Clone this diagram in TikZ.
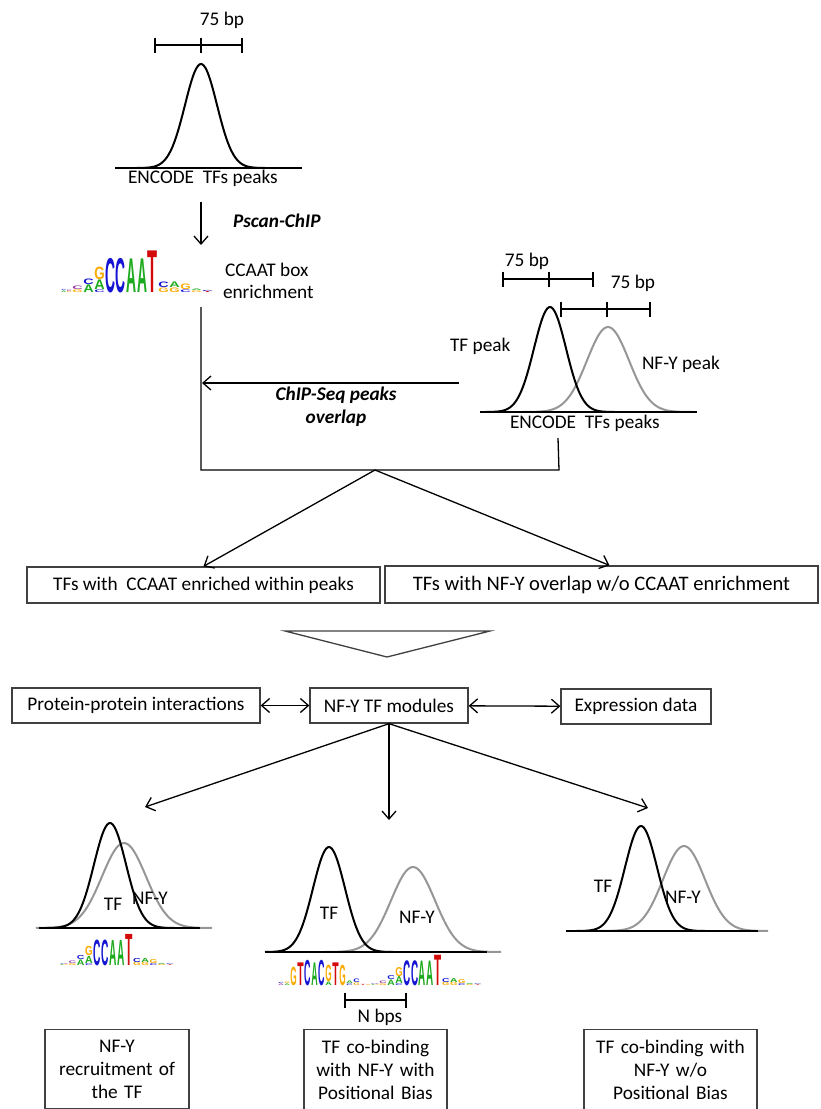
\documentclass[tikz,border=0pt]{standalone}
\usepackage{fontspec}
\setmainfont{Carlito}
\newfontfamily\logofont{Liberation Sans}
\usetikzlibrary{arrows.meta,positioning}

\definecolor{lgA}{RGB}{30,170,30}
\definecolor{lgC}{RGB}{20,20,210}
\definecolor{lgG}{RGB}{250,170,0}
\definecolor{lgT}{RGB}{210,10,10}
\definecolor{lgP}{RGB}{150,60,170}
\definecolor{peakgray}{RGB}{150,150,150}
\definecolor{boxgray}{RGB}{64,64,64}

\tikzset{
  lbl/.style={inner sep=0pt,outer sep=0pt,anchor=base},
  bilbl/.style={lbl,font=\fontsize{19.3}{23}\selectfont\bfseries\itshape},
  flowbox/.style={draw=boxgray,line width=1.3pt,inner sep=0pt,align=center},
  arr/.style={-{Straight Barb[length=8pt,width=14pt]},line width=1.3pt},
  dbl/.style={{Straight Barb[length=8pt,width=14pt]}-{Straight Barb[length=8pt,width=14pt]},line width=1.3pt},
  base line/.style={line width=1.8pt},
  bar line/.style={line width=1.8pt},
  tf peak/.style={line width=2pt,black},
  nfy peak/.style={line width=2pt,peakgray},
  lgl/.style={anchor=south west,inner sep=0pt,outer sep=0pt,font=\logofont\bfseries}
}

\newcommand{\peak}[5]{%
  \pgfmathsetmacro\pka{#1-4*#3}\pgfmathsetmacro\pkb{#1+4*#3}%
  \draw[#5] plot[smooth,samples=70,domain=\pka:\pkb] (\x,{#2-#4*exp(-0.5*((\x-#1)/#3)^2)});}
\newcommand{\bpbar}[4]{%
  \draw[bar line] (#1,#4) -- (#3,#4);
  \foreach \t in {#1,#2,#3}{\draw[bar line] (\t,#4-7.5) -- (\t,#4+7.5);}}
\newcommand{\seqlogo}[4]{%
  \begin{scope}[shift={(#1,#2)}]
  \foreach \gx/\gw/\gb/\gh/\gch/\gcol in #4{
    \pgfmathsetlengthmacro\lgw{max(\gw*#3-0.6,0.4)}\pgfmathsetlengthmacro\lgh{max(\gh*#3-0.4,0.4)}
    \node[lgl] at (\gx*#3+0.3,-\gb*#3-0.2) {\resizebox*{\lgw}{\lgh}{\textcolor{\gcol}{\gch}}};}
  \end{scope}}
\newcommand{\ccaatcols}{0/5.5/0/2/A/lgA, 0/5.5/2/1.5/C/lgC, 5.5/5.5/0/1.5/G/lgG, 5.5/5.5/1.5/2/C/lgP,
  11/11/0/3/G/lgG, 11/11/3/4/C/lgP, 22/11/0/8/A/lgA, 22/11/8/6/C/lgC,
  33/11/0/3/C/lgC, 33/11/3/10/A/lgA, 33/11/13/13/G/lgG,
  44/10.6/0/35/C/lgC, 54.6/10.6/0/35/C/lgC, 65.2/10.6/0/34/A/lgA, 75.8/10.6/0/34/A/lgA, 86.4/10.6/0/42/T/lgT,
  97/11/0/5/G/lgG, 97/11/5/6/C/lgC, 108/11/0/5/G/lgG, 108/11/5/6/A/lgA,
  119/11/0/3/C/lgC, 119/11/3/6/G/lgG, 130/11/0/2/G/lgG, 130/11/2/2/A/lgA,
  141/11/0/1.5/T/lgT, 141/11/1.5/1.5/C/lgC}
\newcommand{\ebxcols}{0/6/0/2/A/lgP, 0/6/2/1.5/C/lgC, 6/6/0/2/A/lgA, 6/6/2/2/G/lgG,
  12/7/0/19/G/lgG, 19/7/0/23/T/lgT, 26/7/0/26/C/lgC, 33/7/0/23/A/lgA, 40/7/0/26/C/lgC,
  47/7/0/4/A/lgA, 47/7/4/17/G/lgG, 54/7/0/23/T/lgT, 61/7/0/21/G/lgG,
  68/7/0/2/C/lgC, 68/7/2/3/A/lgA, 75/7/0/3/G/lgG, 75/7/3/4/C/lgC, 82/6/0/1.5/T/lgT, 88/4.5/0/1.5/G/lgG}

\begin{document}
\begin{tikzpicture}[x=1pt,y=-1pt,font=\fontsize{19.3}{23}\selectfont]
\useasboundingbox (0,0) rectangle (820,1109);

\node[lbl] (bpTop) at (222,25) {75 bp};
\bpbar{155}{201}{242}{45}
\peak{201}{168}{16}{104}{tf peak}
\draw[base line] (115,168) -- (302,168);
\node[lbl,anchor=base west] (encTop) at (128,183) {ENCODE\ \ TFs peaks};
\coordinate (scanS) at (201,202);
\coordinate (scanE) at (201,245);
\draw[arr] (scanS) -- (scanE);
\node[bilbl,anchor=base west] (pscan) at (233,227) {Pscan-ChIP};
\seqlogo{61}{293}{1}{\ccaatcols}
\node[lbl,anchor=base west] (ccaatA) at (225,276) {CCAAT box};
\node[lbl,anchor=base west] (ccaatB) at (223,298) {enrichment};

\node[lbl] (bpR1) at (527,266) {75 bp};
\bpbar{503}{549}{593}{279}
\node[lbl] (bpR2) at (633,288) {75 bp};
\bpbar{561}{607}{650}{309}
\peak{608}{412}{21}{85}{nfy peak}
\peak{550}{412}{16}{105}{tf peak}
\draw[base line] (480,412) -- (697,412);
\node[lbl,anchor=base west] (tfpk) at (450,351) {TF peak};
\node[lbl,anchor=base west] (nfypk) at (642,369) {NF-Y peak};
\node[lbl,anchor=base west] (encR) at (510,428) {ENCODE\ \ TFs peaks};

\coordinate (logoS) at (201,307);
\coordinate (mergeL) at (201,470);
\coordinate (apex) at (375,470);
\coordinate (mergeR) at (559,470);
\coordinate (encS) at (558,438);
\draw[line width=1.3pt] (logoS) -- (mergeL) -- (mergeR) -- (encS);
\coordinate (ovS) at (459,383);
\coordinate (ovE) at (202,383);
\draw[arr] (ovS) -- (ovE);
\node[bilbl] (ovA) at (336,400) {ChIP-Seq peaks};
\node[bilbl] (ovB) at (336,423) {overlap};

\node[flowbox,minimum width=353pt,minimum height=36pt] (enrA) at (203.5,585) {TFs with\ \ CCAAT enriched within peaks};
\node[flowbox,minimum width=433pt,minimum height=37pt,font=\fontsize{20.6}{24}\selectfont] (enrB) at (601.5,584.5) {TFs with NF-Y overlap w/o CCAAT enrichment};
\draw[arr] (apex) -- (enrA.north);
\draw[arr] (apex) -- ([xshift=8pt]enrB.north);
\draw[line width=1.3pt,boxgray] (285,631) -- (490,631) -- (387,657) -- cycle;

\node[flowbox,minimum width=248pt,minimum height=35pt] (ppi) at (136,705.5) {Protein-protein interactions};
\node[flowbox,minimum width=158pt,minimum height=35pt] (mod) at (389,705.5) {NF-Y TF modules};
\node[flowbox,minimum width=150pt,minimum height=35pt] (expr) at (636,706.5) {Expression data};
\draw[dbl] (ppi) -- (mod);
\draw[dbl] (mod) -- (expr);
\coordinate (outA) at (145,807);
\coordinate (outB) at (389,820);
\coordinate (outC) at (648,808);
\foreach \o in {outA,outB,outC}{\draw[arr] (mod.south) -- (\o);}

\peak{124}{928}{22}{85}{nfy peak}
\peak{110}{928}{16}{105}{tf peak}
\draw[base line] (39,928) -- (200,928);
\node[lbl] (tfA) at (113,910) {TF};
\node[lbl] (nfyA) at (150,904) {NF-Y};
\seqlogo{60}{966}{0.75}{\ccaatcols}

\peak{413}{952}{22}{85}{nfy peak}
\peak{329}{952}{16}{105}{tf peak}
\draw[base line] (272,952) -- (487,952);
\node[lbl] (tfB) at (329,919) {TF};
\node[lbl] (nfyB) at (417,923) {NF-Y};
\seqlogo{278}{986}{1}{\ebxcols}
\seqlogo{371}{986}{0.73}{\ccaatcols}
\bpbar{345}{345}{406}{1000}
\node[lbl] (nbps) at (380,1022) {N bps};

\peak{684}{931}{21}{85}{nfy peak}
\peak{641}{931}{16}{105}{tf peak}
\draw[base line] (566,931) -- (758,931);
\node[lbl] (tfC) at (603,892) {TF};
\node[lbl] (nfyC) at (683,903) {NF-Y};

\node[flowbox,anchor=north,text width=136pt,inner xsep=4pt,inner ysep=10pt] (recr) at (117,1029) {NF-Y\\recruitment of\\the TF};
\node[flowbox,anchor=north,text width=135pt,inner xsep=4pt,inner ysep=10pt] (cobB) at (375.5,1029) {TF co-binding\\with NF-Y with\\Positional Bias};
\node[flowbox,anchor=north,text width=165pt,inner xsep=4pt,inner ysep=10pt] (cobC) at (670.5,1029) {TF co-binding with\\NF-Y w/o\\Positional Bias};
\end{tikzpicture}
\end{document}
